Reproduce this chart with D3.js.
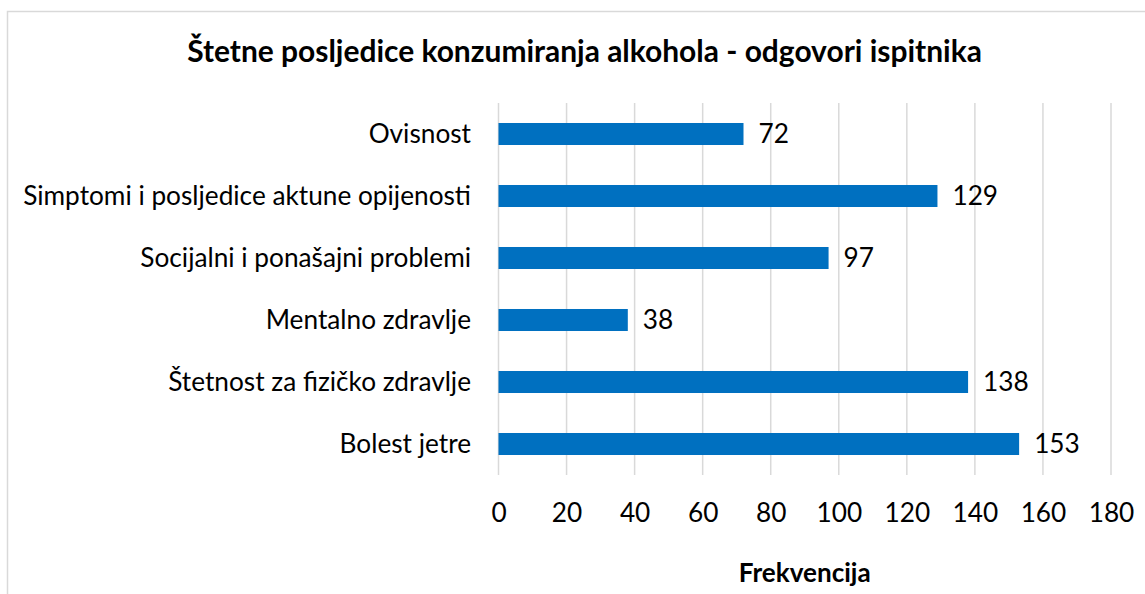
<!DOCTYPE html>
<html>
<head>
<meta charset="utf-8">
<script src="https://cdn.jsdelivr.net/npm/d3@7"></script>
<style>
  body { margin: 0; background: #fff; }
  svg { display: block; }
  text { font-family: Lato, "Open Sans", sans-serif; fill: #000; }
</style>
</head>
<body>
<div id="chart"></div>
<script>
var categories = [
    "Ovisnost",
    "Simptomi i posljedice aktune opijenosti",
    "Socijalni i ponašajni problemi",
    "Mentalno zdravlje",
    "Štetnost za fizičko zdravlje",
    "Bolest jetre"
];
var values = [72, 129, 97, 38, 138, 153];
var xTicks = [0, 20, 40, 60, 80, 100, 120, 140, 160, 180];
var title = "Štetne posljedice konzumiranja alkohola - odgovori ispitnika";
var xTitle = "Frekvencija";

var width = 1145, height = 594;
var plot = { left: 498.5, right: 1111, top: 103, bottom: 475 };

var svg = d3.select("#chart").append("svg")
    .attr("width", width)
    .attr("height", height);

svg.append("rect")
    .attr("x", 7.5).attr("y", 11.5)
    .attr("width", width).attr("height", height)
    .style("fill", "none")
    .style("stroke", "#d9d9d9")
    .style("stroke-width", 1.5);

var x = d3.scaleLinear().domain([0, 180]).range([plot.left, plot.right]);
var y = d3.scaleBand().domain(categories).range([plot.top, plot.bottom]).paddingInner(0.645).paddingOuter(0.3225);

// fit a text element to a target width by adjusting font size
function fitSize(sel, target) {
    var w = sel.node().getComputedTextLength();
    var fs = parseFloat(sel.attr("font-size"));
    sel.attr("font-size", fs * target / w);
    return fs * target / w;
}

var t = svg.append("text")
    .attr("x", 584.5).attr("y", 62)
    .attr("text-anchor", "middle")
    .attr("font-size", 26)
    .attr("font-weight", "bold")
    .text(title);
fitSize(t, 795);

// gridlines
svg.append("g").selectAll("line")
    .data(xTicks)
    .enter().append("line")
    .attr("x1", function (d) { return x(d); })
    .attr("x2", function (d) { return x(d); })
    .attr("y1", plot.top)
    .attr("y2", plot.bottom)
    .style("stroke", "#d9d9d9")
    .style("stroke-width", 1.5);

svg.append("g").selectAll("rect")
    .data(values)
    .enter().append("rect")
    .attr("x", x(0))
    .attr("y", function (d, i) { return y(categories[i]); })
    .attr("width", function (d) { return x(d) - x(0); })
    .attr("height", y.bandwidth())
    .style("fill", "#0070c0");

// measure label size from the longest category
var probe = svg.append("text").attr("font-size", 22).text(categories[1]);
var labelSize = fitSize(probe, 448);
probe.remove();

svg.append("g").selectAll("text")
    .data(categories)
    .enter().append("text")
    .attr("x", 471)
    .attr("y", function (d) { return y(d) + y.bandwidth() / 2; })
    .attr("dy", "0.35em")
    .attr("text-anchor", "end")
    .attr("font-size", labelSize)
    .text(function (d) { return d; });

svg.append("g").selectAll("text")
    .data(values)
    .enter().append("text")
    .attr("x", function (d) { return x(d) + 15; })
    .attr("y", function (d, i) { return y(categories[i]) + y.bandwidth() / 2; })
    .attr("dy", "0.35em")
    .attr("font-size", labelSize)
    .text(function (d) { return d; });

var xAxis = d3.axisBottom(x).tickValues(xTicks).tickSize(0).tickPadding(0);
var ax = svg.append("g")
    .attr("transform", "translate(0," + 503 + ")")
    .call(xAxis);
ax.select(".domain").remove();
ax.selectAll("text")
    .attr("font-size", labelSize)
    .attr("dy", "0.71em")
    .style("font-family", "Lato, 'Open Sans', sans-serif")
    .style("fill", "#000");

var xt = svg.append("text")
    .attr("x", (plot.left + plot.right) / 2)
    .attr("y", 582)
    .attr("text-anchor", "middle")
    .attr("font-size", 22)
    .attr("font-weight", "bold")
    .text(xTitle);
fitSize(xt, 132);
</script>
</body>
</html>
